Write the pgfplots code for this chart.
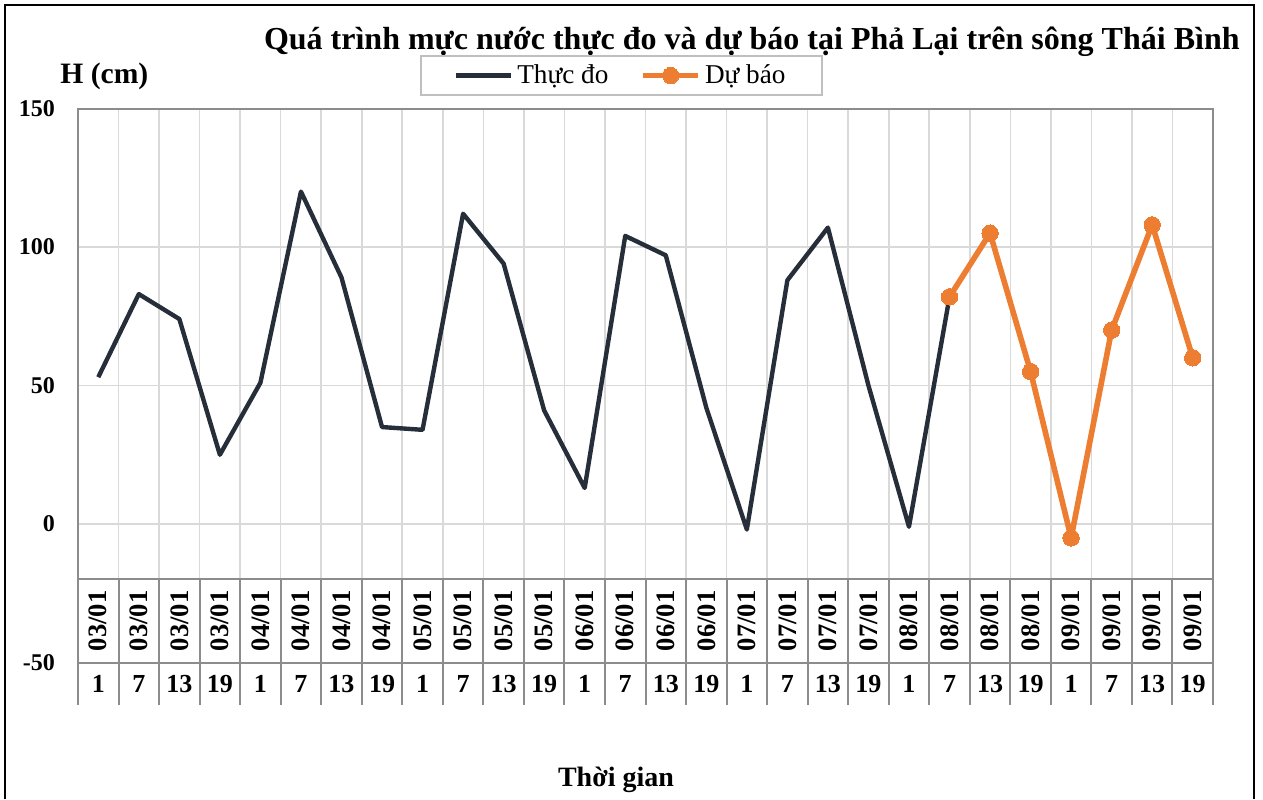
\documentclass[border=0pt]{standalone}
\usepackage{pgfplots}
\pgfplotsset{compat=1.18}
\usepackage{fontspec}
\setmainfont{Liberation Serif}
\definecolor{meas}{RGB}{38,46,58}
\definecolor{fore}{RGB}{237,125,49}
\definecolor{sep}{RGB}{140,140,140}
\definecolor{grd}{RGB}{217,217,217}
\definecolor{lgb}{RGB}{191,191,191}
\begin{document}
\begin{tikzpicture}
\path[use as bounding box] (0,0) rectangle (631.5pt,399.5pt);
\draw[line width=1.1pt] (2.5pt,0) -- (2.5pt,397pt) -- (627pt,397pt) -- (627pt,0);
\node[anchor=east,font=\bfseries\fontsize{16}{18}\selectfont,inner sep=0pt] at (620pt,378.5pt) {Quá trình mực nước thực đo và dự báo tại Phả Lại trên sông Thái Bình};
\node[anchor=west,font=\bfseries\fontsize{14.8}{17}\selectfont,inner sep=0pt] at (30pt,361.5pt) {H (cm)};
\node[font=\bfseries\fontsize{14}{16}\selectfont,inner sep=0pt] at (308pt,9.5pt) {Thời gian};
\begin{axis}[
  at={(39pt,68.25pt)}, anchor=south west,
  scale only axis, width=567.5pt, height=277pt,
  xmin=-0.5, xmax=27.5, ymin=-50, ymax=150,
  clip=false,
  axis line style={draw=none},
  xtick={-0.5,0.5,...,27.5}, xticklabels={},
  ytick={-50,0,50,100,150}, yticklabels={-50,0,50,100,150},
  major tick length=0pt,
  xmajorgrids, ymajorgrids,
  grid style={grd, line width=0.8pt},
  yticklabel style={font=\bfseries\fontsize{12}{13}\selectfont, xshift=-8pt},
  legend columns=2,
  legend style={at={(0.3013,1.0966)}, anchor=north west, draw=lgb, line width=1pt,
    font=\fontsize{13.6}{16}\selectfont, inner xsep=16.5pt, inner ysep=2.3pt,
    /tikz/every even column/.append style={column sep=14pt}},
  legend image code/.code={\draw[mark repeat=2,mark phase=2,#1] plot coordinates {(0pt,0pt) (13.75pt,0pt) (27.5pt,0pt)};},
]
\draw[sep, line width=1pt] (axis cs:-0.5,-20) -- (axis cs:27.5,-20);
\draw[sep, line width=1pt] (axis cs:-0.5,-50) -- (axis cs:27.5,-50);
\foreach \k in {0.5,1.5,...,26.5} {
  \edef\tmp{\noexpand\draw[sep,line width=1pt] (axis cs:\k,-20) -- (axis cs:\k,-65.3);}\tmp
}
\draw[sep, line width=1pt] (axis cs:-0.5,-65.3) -- (axis cs:-0.5,150) -- (axis cs:27.5,150) -- (axis cs:27.5,-65.3);
\foreach \ii/\dd/\hh in {0/03/1,1/03/7,2/03/13,3/03/19,4/04/1,5/04/7,6/04/13,7/04/19,8/05/1,9/05/7,10/05/13,11/05/19,12/06/1,13/06/7,14/06/13,15/06/19,16/07/1,17/07/7,18/07/13,19/07/19,20/08/1,21/08/7,22/08/13,23/08/19,24/09/1,25/09/7,26/09/13,27/09/19} {
  \edef\tmp{\noexpand\node[rotate=90,font=\noexpand\bfseries\noexpand\fontsize{13.3}{15}\noexpand\selectfont,inner sep=0pt] at (axis cs:\ii,-35) {\dd/01};
  \noexpand\node[font=\noexpand\bfseries\noexpand\fontsize{13}{15}\noexpand\selectfont,inner sep=0pt] at (axis cs:\ii,-57.6) {\hh};}\tmp
}
\addplot[meas, line width=2.2pt, line join=round] coordinates {
(0,53) (1,83) (2,74) (3,25) (4,51) (5,120) (6,89) (7,35) (8,34) (9,112) (10,94) (11,41) (12,13) (13,104) (14,97) (15,42) (16,-2) (17,88) (18,107) (19,50) (20,-1) (21,82)
};
\addlegendentry{Thực đo}
\addplot[fore, line width=2.8pt, line join=round, mark=*, mark size=4.1pt, mark options={fill=fore, draw=fore, line width=0pt}] coordinates {
(21,82) (22,105) (23,55) (24,-5) (25,70) (26,108) (27,60)
};
\addlegendentry{Dự báo}
\end{axis}
\end{tikzpicture}
\end{document}
